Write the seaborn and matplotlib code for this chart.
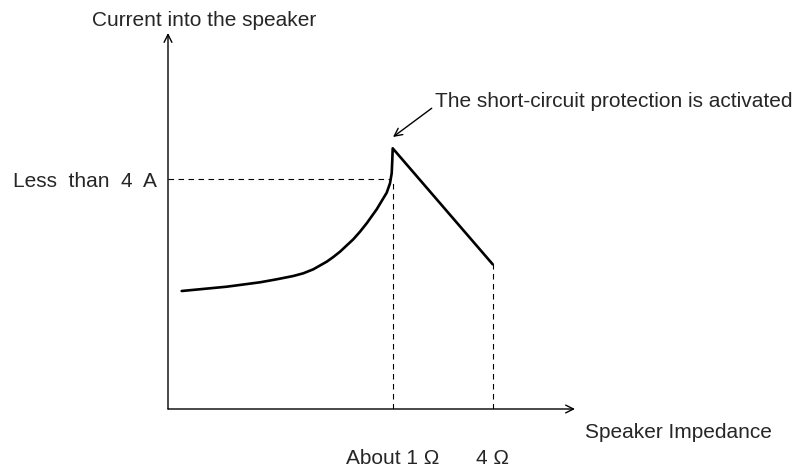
import matplotlib
matplotlib.use("Agg")
import matplotlib.pyplot as plt
import seaborn as sns
import pandas as pd

# Schematic data (arbitrary units)
impedance = [13.7, 58.7, 92.0, 108.7, 125.3, 135.3, 145.3, 158.7, 165.3, 172.0,
             185.3, 192.0, 198.7, 208.7, 213.7, 218.7, 222.0, 223.7, 224.3,
             224.7, 324.7]
current = [118.0, 122.3, 126.7, 129.7, 133.0, 135.7, 139.7, 147.3, 152.0, 157.3,
           169.7, 177.3, 185.7, 199.7, 208.0, 216.3, 225.7, 235.7, 249.0,
           260.7, 144.7]
limit_current = 229.5
x_tick_pos = [224.5, 324.7]
x_tick_labels = ["About 1 \u03a9", "4 \u03a9"]
y_label_text = "Less  than  4  A"

sns.set_style("white")
plt.rcParams["font.family"] = ["Liberation Sans", "DejaVu Sans"]

W, H = 801, 470
fig = plt.figure(figsize=(W / 100, H / 100), dpi=100)
ax = fig.add_axes([168 / W, 61 / H, 407 / W, 376 / H])
ax.set_xlim(0, 407)
ax.set_ylim(0, 376)
for s in ax.spines.values():
    s.set_visible(False)
ax.set_xticks([])
ax.set_yticks([])
ax.patch.set_alpha(0)

df = pd.DataFrame({"Impedance": impedance, "Current": current})
sns.lineplot(data=df, x="Impedance", y="Current", ax=ax, color="black",
             linewidth=1.9, sort=False, estimator=None)
ax.lines[-1].set_solid_joinstyle("round")
ax.set_xlabel("")
ax.set_ylabel("")

# dashed guide lines
i_lim = 16
dash = dict(color="black", linewidth=0.8, linestyle=(0, (5, 4)))
ax.plot([0, impedance[i_lim]], [limit_current, limit_current], **dash)
ax.plot([x_tick_pos[0], x_tick_pos[0]], [0, current[i_lim]], **dash)
ax.plot([x_tick_pos[1], x_tick_pos[1]], [0, current[-1]], **dash)

# axes arrows
arr = dict(arrowstyle="->", color="black", lw=1.0, shrinkA=0, shrinkB=0,
           mutation_scale=14)
ax.annotate("", xy=(407, 0), xytext=(0, 0), arrowprops=arr, annotation_clip=False)
ax.annotate("", xy=(0, 376), xytext=(0, 0), arrowprops=arr, annotation_clip=False)

fs = 15
ax.text(36, 388, "Current into the speaker", ha="center", va="center",
        fontsize=fs, clip_on=False)
ax.text(417, -23, "Speaker Impedance", ha="left", va="center",
        fontsize=fs, clip_on=False)
ax.text(-11, limit_current - 2, y_label_text, ha="right", va="center",
        fontsize=fs, clip_on=False)
for xp, lab in zip(x_tick_pos, x_tick_labels):
    ax.text(xp, -49, lab, ha="center", va="center", fontsize=fs, clip_on=False)

ax.annotate("The short-circuit protection is activated",
            xy=(225, 272), xytext=(267, 307),
            ha="left", va="center", fontsize=fs,
            arrowprops=dict(arrowstyle="->", color="black", lw=1.0,
                            shrinkA=0, shrinkB=0, mutation_scale=14,
                            relpos=(0, 0.3)),
            annotation_clip=False)

fig.savefig("out.png", dpi=100)
